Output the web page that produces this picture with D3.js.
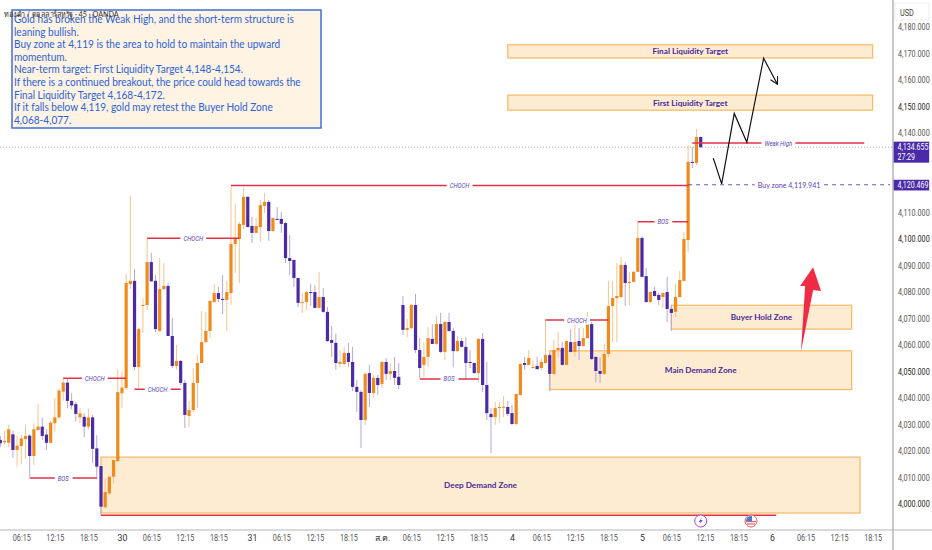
<!DOCTYPE html>
<html>

<head>
	<meta charset="utf-8">
	<title>XAUUSD 45m</title>
	<script src="https://cdn.jsdelivr.net/npm/d3@7"></script>
	<style>
		body { margin: 0; background: #fff; }
		svg { display: block; }
		text { font-family: Lato, "Noto Sans", sans-serif; }
		.tick text, .axis-text { font-family: Roboto, sans-serif; }
		.tick text { fill: #555; font-size: 8.8px; }
		.ylab text { fill: #555; }
		.mark { fill: #5a3fb8; font-family: Roboto, sans-serif; font-size: 7px; font-style: italic; }
		.zone-label { fill: #4a2a96; font-size: 8.2px; font-weight: 700; }
	</style>
</head>

<body>
	<svg id="chart" width="932" height="550"></svg>

	<script>
		// candles, one entry per 45 minute bar
		var opens = [
			4024.2,4023.3,4023.1,4026.3,4020.4,4021.9,4024.5,4025.8,4018.1,4027.9,
			4029.2,4026.2,4023.1,4030.5,4032.7,4042.4,4045.8,4038.9,4037.7,4032.7,
			4032.9,4029.2,4032.7,4021,4014.3,3998.8,4004,4010.3,4016.2,4041.8,
			4043.8,4083,4084.2,4051.7,4074.8,4075.1,4091.3,4084.2,4065.3,4081.1,
			4082.3,4063.4,4052.1,4054,4045.7,4033.2,4035.5,4045.7,4053.2,4061.1,
			4065.3,4076.2,4079.6,4077.4,4077,4079.6,4098.1,4100,4105.3,4115.9,
			4104.9,4102.3,4104.5,4112.5,4114,4103,4107.6,4107.6,4106,4092.8,
			4092.1,4085.3,4075.9,4076.2,4080,4080,4074,4078.1,4072.5,4061.9,
			4060.8,4052.9,4052.8,4057,4053.6,4044.2,4042.3,4031.7,4049.4,4041.9,
			4047.6,4045.3,4053.6,4049.1,4050.2,4048,4075.1,4065.7,4066.4,4075.1,
			4058.1,4052.5,4055.5,4062.3,4060.4,4067.9,4057.4,4068.7,4065.3,4057.7,
			4061.5,4059.3,4053.6,4053.2,4049.4,4062.3,4044.9,4034,4032.8,4036.2,
			4036.5,4036.6,4034.3,4030.2,4041.1,4053.2,4052.5,4051.3,4052.1,4051.3,
			4053.2,4056.2,4049.1,4058.1,4058.9,4052.5,4061.1,4057.4,4061.5,4059.6,
			4062.6,4067.9,4055.5,4050.2,4049.1,4056.6,4074.7,4077.7,4078.1,4090.2,
			4083.4,4083.8,4087.6,4100.4,4086,4076.2,4080.4,4078.9,4078.1,4080,
			4073.6,4072.5,4078.1,4084.2,4099.6,4129.1,4128.7,4138.5];
		var highs = [
			4025.7,4027.7,4029.8,4027.7,4025.7,4026,4029.8,4026.4,4030.5,4037.7,
			4032.7,4028.2,4031.4,4039.9,4043.7,4047.4,4047.1,4041.8,4038.6,4036.1,
			4034.2,4036.1,4033.6,4026,4014.3,4009.7,4010.3,4016.6,4050.6,4049.9,
			4086.8,4116.4,4088.7,4066.5,4077.7,4100.4,4094.7,4086.4,4092.8,4091,
			4083.4,4070.2,4060,4054.3,4046.8,4038.9,4051.3,4056.2,4072.8,4072.5,
			4077,4083,4081.9,4086.4,4084.2,4120,4113.2,4106.4,4119.3,4116.2,
			4108.3,4107.9,4114.7,4117.4,4114.7,4108,4112.1,4110.2,4106.5,4101.5,
			4092.1,4085.3,4079.6,4080.2,4083,4082.6,4087.6,4081.5,4074.3,4067.2,
			4064.2,4058.1,4059.3,4060.8,4059.3,4046.8,4043,4049.8,4052.5,4048.7,
			4048.7,4053.9,4055.1,4053.2,4055.5,4053.2,4078.5,4069.8,4075.4,4079.3,
			4062.6,4061.1,4066.8,4067.9,4071,4072.1,4068.9,4072.1,4066.4,4063.4,
			4062.6,4063,4058.1,4053.4,4062.5,4064.5,4053.6,4036.2,4038.5,4038.5,
			4040.8,4038.9,4037.4,4041.7,4053.2,4055.5,4058.1,4054.3,4055.5,4054.7,
			4069.4,4057,4061.9,4064.9,4061.1,4061.7,4066,4067.9,4066.4,4066.4,
			4072.5,4068.7,4055.7,4055.5,4060.4,4084.2,4084.2,4091,4093.2,4091.3,
			4087.6,4087.9,4106.4,4101,4089.1,4080.2,4081.9,4079.6,4080,4085.7,
			4075.1,4083,4087.9,4102.6,4135.5,4134.7,4141.5,4138.7];
		var lows = [
			4021.4,4022.3,4021.4,4017.5,4014.1,4015,4017.2,4010.1,4014.7,4027.7,
			4024.2,4020.4,4022.9,4027.3,4032,4039,4036.1,4035.7,4031.1,4030.5,
			4025.2,4028.2,4015.4,4009.3,3995.5,3998.4,4003.4,4007.8,4016,4036.1,
			4043,4081.1,4050.6,4043.8,4064.5,4073.2,4084,4064.9,4064.9,4080.8,
			4063.4,4051.3,4050.6,4044.9,4028.7,4029.1,4034.7,4036.2,4053.2,4060.8,
			4062.6,4075.9,4076.2,4071.7,4065.3,4075.1,4087.2,4083.4,4103.8,4104.5,
			4098.5,4102.3,4098.9,4109.8,4099.3,4102.8,4107.2,4102.3,4091,4086.4,
			4081.9,4074.3,4072.1,4073.2,4074.7,4073.8,4073.8,4072.1,4061.1,4055.5,
			4050.6,4051.7,4052.5,4051.7,4042.6,4034.7,4021.1,4029.8,4036.6,4040,
			4041.1,4043.8,4046.8,4046.8,4044.9,4043.4,4063.8,4063,4066,4057,
			4047.6,4047.9,4051.7,4060.4,4060,4057,4054.3,4065,4051.7,4057.4,
			4059,4046.8,4051.3,4049.2,4046,4042.3,4031.7,4019.2,4029.8,4030.6,
			4032.8,4033.2,4029.8,4029.4,4041,4050.6,4052.3,4051.1,4050.6,4050.6,
			4052.9,4042.6,4048.7,4055.5,4052.3,4052.4,4057.2,4055.5,4054.3,4059.4,
			4062.4,4054.3,4046,4045.7,4048.7,4055.5,4061.1,4061.1,4077.9,4074.7,
			4075.1,4083.6,4087.4,4085.5,4076,4075.9,4078.3,4075.1,4074,4068.7,
			4065.3,4070.6,4077.9,4084,4095.1,4126.8,4127.9,4134.3];
		var closes = [
			4022.9,4023.8,4028.2,4020.4,4022,4024.8,4025.7,4018.1,4028.2,4029.2,
			4025.7,4023.1,4030.7,4032.7,4042.8,4045.8,4038.9,4037.2,4034,4034.2,
			4029.2,4032.7,4020.8,4014.1,3999,4004.5,4010.3,4016.6,4042.2,4043.9,
			4083.4,4084.2,4051.7,4066,4075.1,4091.3,4084,4066,4081.1,4082.3,
			4063.4,4052.1,4054,4045.7,4033.6,4035.5,4045.7,4053.2,4061.1,4065.3,
			4076.6,4079.6,4077.4,4077,4080,4098.1,4100,4105.7,4115.9,4104.5,
			4102.3,4104.9,4112.8,4114,4103,4107.9,4107.2,4105.7,4092.8,4091.7,
			4085.3,4075.9,4076.2,4080,4079.6,4074,4078.1,4072.5,4061.5,4060.8,
			4053.2,4053.6,4057,4053.6,4044.2,4042.3,4031.7,4049.1,4041.9,4047.6,
			4044.9,4053.6,4049.1,4050.2,4047.6,4044.9,4065.7,4066.4,4075.1,4058.1,
			4051.3,4055.5,4062.6,4060.4,4067.9,4057.4,4068.7,4065.3,4057.7,4061.5,
			4059.3,4053.2,4053.2,4049.4,4062.3,4044.9,4034.3,4032.8,4036.2,4036.6,
			4036.7,4034,4030.2,4041.5,4052.8,4052.5,4055.1,4051.7,4050.9,4053.6,
			4056.2,4049.1,4058.1,4058.9,4052.5,4061.5,4057.4,4061.1,4059.6,4062.6,
			4067.9,4054.7,4050.2,4049.1,4056.6,4074.7,4077.7,4078.5,4090.2,4083.4,
			4083.8,4087.6,4100.4,4085.7,4076.2,4080,4078.5,4077,4079.6,4073.6,
			4072.1,4078.1,4084.5,4100,4129.1,4128.7,4138.5,4134.655];

		var timeTicks = [5,13,21,29,36,44,52,60,67,75,83,91,98,106,114,122,129,137,145,153,160,168,176,184,192,200,208];
		var timeLabels = ['06:15','12:15','18:15','30','06:15','12:15','18:15','31','06:15','12:15','18:15','ส.ค.','06:15','12:15','18:15','4','06:15','12:15','18:15','5','06:15','12:15','18:15','6','06:15','12:15','18:15'];
		// 4,120 and 4,130 sit behind the price tags
		var priceTicks = [4000,4010,4020,4030,4040,4050,4060,4070,4080,4090,4100,4110,4140,4150,4160,4170,4180];

		// zones: name, first bar, last bar, upper price, lower price
		var zoneNames = ['Final Liquidity Target', 'First Liquidity Target', 'Buyer Hold Zone', 'Main Demand Zone', 'Deep Demand Zone'];
		var zoneFrom = [121, 121, 160, 131, 24];
		var zoneTo = [208, 208, 203, 203, 205];
		var zoneTop = [4173.3, 4154.3, 4075, 4057.8, 4017.7];
		var zoneBottom = [4168.3, 4148.6, 4066, 4043.2, 3996.6];

		// structure lines
		var levelNames = ['CHOCH','CHOCH','CHOCH','CHOCH','BOS','BOS','CHOCH','BOS','Weak High'];
		var levelFrom = [55,35,15,32,7,100,130,152,165];
		var levelTo = [164,57,30,43,23,114,145,164,206];
		var levelPrice = [4120.2,4100.3,4047.5,4043.3,4009.8,4047.2,4069.4,4106.5,4136.2];

		var lastPrice = 4134.655, buyPrice = 4120.469;

		// hand drawn projection and the red arrow
		var pathBars = [170,172,175,178,182,185.3];
		var pathPrices = [4130.5,4120.8,4147.4,4136.5,4168.2,4158.4];
		var arrowBars = [190.9,191.9,190.7,193.8,195.7,193.8];
		var arrowPrices = [4057.5,4082.3,4082.3,4089.3,4080.4,4080.8];

		var noteLines = [
			'Gold has broken the Weak High, and the short-term structure is',
			'leaning bullish.',
			'Buy zone at 4,119 is the area to hold to maintain the upward',
			'momentum.',
			'Near-term target: First Liquidity Target 4,148-4,154.',
			'If there is a continued breakout, the price could head towards the',
			'Final Liquidity Target 4,168-4,172.',
			'If it falls below 4,119, gold may retest the Buyer Hold Zone',
			'4,068-4,077.'
		];

		var svg = d3.select('#chart');
		var x = d3.scaleLinear().domain([0, 167]).range([0.33, 700.7]);
		var y = d3.scaleLinear().domain([4000, 4180]).range([504, 27]);

		var upColor = '#f08a1d', upWick = '#f7c48c', downColor = '#4b2aa6', downWick = '#b3a8da', lineRed = '#e2304a';

		// the original font is narrower than anything installed, squeeze the glyphs
		function narrow(sel, k) {
			sel.each(function () {
				d3.select(this)
					.attr('textLength', this.getComputedTextLength() * k)
					.attr('lengthAdjust', 'spacingAndGlyphs');
			});
			return sel;
		}

		// zones under the candles
		zoneNames.forEach(function (name, i) {
			svg.append('rect')
				.attr('x', x(zoneFrom[i]))
				.attr('y', y(zoneTop[i]))
				.attr('width', x(zoneTo[i]) - x(zoneFrom[i]))
				.attr('height', y(zoneBottom[i]) - y(zoneTop[i]))
				.attr('fill', '#fdebd2')
				.attr('stroke', '#f6b963')
				.attr('stroke-width', 1.2);
		});

		// last price line
		svg.append('line')
			.attr('x1', 0).attr('x2', 893)
			.attr('y1', y(lastPrice)).attr('y2', y(lastPrice))
			.attr('stroke', '#999').attr('stroke-width', 0.8).attr('stroke-dasharray', '1 2');

		// candles
		var candles = svg.append('g').selectAll('g').data(opens).enter().append('g');
		candles.append('line')
			.attr('x1', function (d, i) { return x(i); })
			.attr('x2', function (d, i) { return x(i); })
			.attr('y1', function (d, i) { return y(highs[i]); })
			.attr('y2', function (d, i) { return y(lows[i]); })
			.attr('stroke', function (d, i) { return closes[i] >= d ? upWick : downWick; })
			.attr('stroke-width', 1);
		candles.append('rect')
			.attr('x', function (d, i) { return x(i) - 1.6; })
			.attr('width', 3.2)
			.attr('y', function (d, i) { return y(Math.max(d, closes[i])); })
			.attr('height', function (d, i) { return Math.max(1, Math.abs(y(d) - y(closes[i]))); })
			.attr('fill', function (d, i) { return closes[i] >= d ? upColor : downColor; });

		// structure lines with a label sitting in the middle
		function addLabel(txt, cx, cy, cls) {
			var label = svg.append('text')
				.attr('class', cls)
				.attr('x', cx).attr('y', cy + 2.5)
				.attr('text-anchor', 'middle')
				.text(txt)
				.call(narrow, 0.85);
			var box = label.node().getBBox();
			svg.insert('rect', function () { return label.node(); })
				.attr('x', box.x - 3).attr('y', box.y)
				.attr('width', box.width + 6).attr('height', box.height)
				.attr('fill', '#fff');
		}
		levelNames.forEach(function (name, i) {
			svg.append('line')
				.attr('x1', x(levelFrom[i])).attr('x2', x(levelTo[i]))
				.attr('y1', y(levelPrice[i])).attr('y2', y(levelPrice[i]))
				.attr('stroke', lineRed).attr('stroke-width', 1.5);
			addLabel(name, (x(levelFrom[i]) + x(levelTo[i])) / 2, y(levelPrice[i]), 'mark');
		});

		// red line under the deep zone
		svg.append('line')
			.attr('x1', x(24)).attr('x2', x(185))
			.attr('y1', y(3995.8)).attr('y2', y(3995.8))
			.attr('stroke', lineRed).attr('stroke-width', 1.5);

		// buy zone
		svg.append('line')
			.attr('x1', x(164)).attr('x2', 890)
			.attr('y1', y(buyPrice)).attr('y2', y(buyPrice))
			.attr('stroke', '#5a3fb8').attr('stroke-width', 0.9).attr('stroke-dasharray', '4 4');
		var buyLabel = svg.append('text')
			.attr('x', (x(164) + 890) / 2).attr('y', y(buyPrice) + 3)
			.attr('text-anchor', 'middle')
			.attr('fill', '#5a3fb8').attr('font-size', 8.2)
			.text('Buy zone 4,119.941')
			.call(narrow, 0.87);
		var buyBox = buyLabel.node().getBBox();
		svg.insert('rect', function () { return buyLabel.node(); })
			.attr('x', buyBox.x - 3).attr('y', buyBox.y)
			.attr('width', buyBox.width + 6).attr('height', buyBox.height)
			.attr('fill', '#fff');

		// zone names
		zoneNames.forEach(function (name, i) {
			svg.append('text')
				.attr('class', 'zone-label')
				.attr('x', (x(zoneFrom[i]) + x(zoneTo[i])) / 2)
				.attr('y', (y(zoneTop[i]) + y(zoneBottom[i])) / 2 + 3)
				.attr('text-anchor', 'middle')
				.text(name);
		});

		// projection path
		svg.append('defs').append('marker')
			.attr('id', 'head')
			.attr('viewBox', '0 0 10 10').attr('refX', 9).attr('refY', 5)
			.attr('markerWidth', 9).attr('markerHeight', 9)
			.attr('markerUnits', 'userSpaceOnUse')
			.attr('orient', 'auto')
			.append('path')
			.attr('d', 'M1,0.5L9,5L1,9.5')
			.attr('fill', 'none').attr('stroke', '#111').attr('stroke-width', 1.2);
		var pathLine = d3.line()
			.x(function (d) { return x(d); })
			.y(function (d, i) { return y(pathPrices[i]); });
		svg.append('path')
			.attr('d', pathLine(pathBars))
			.attr('fill', 'none')
			.attr('stroke', '#111')
			.attr('stroke-width', 1.2)
			.attr('marker-end', 'url(#head)');

		// red arrow
		svg.append('polygon')
			.attr('points', arrowBars.map(function (d, i) { return x(d) + ',' + y(arrowPrices[i]); }).join(' '))
			.attr('fill', '#ef2b45');

		// axes
		var xAxis = d3.axisBottom(x)
			.tickValues(timeTicks)
			.tickSize(0)
			.tickPadding(5)
			.tickFormat(function (d, i) { return timeLabels[i]; });
		var gx = svg.append('g').attr('transform', 'translate(0,530)').call(xAxis);
		gx.select('.domain').remove();
		gx.selectAll('text').filter(function (d, i) { return timeLabels[i].length < 5; }).style('fill', '#333');
		gx.selectAll('text').filter(function (d, i) { return timeLabels[i].length == 5; }).call(narrow, 0.82);

		var yAxis = d3.axisRight(y)
			.tickValues(priceTicks)
			.tickSize(0)
			.tickPadding(5)
			.tickFormat(d3.format(',.3f'));
		var gy = svg.append('g').attr('class', 'ylab').attr('transform', 'translate(893,0)').call(yAxis);
		gy.select('.domain').remove();
		gy.selectAll('text').filter(function (d) { return d % 50 === 0; }).style('fill', '#222');
		gy.selectAll('text').call(narrow, 0.82);

		svg.append('line').attr('x1', 0).attr('x2', 932).attr('y1', 530).attr('y2', 530).attr('stroke', '#b4b4b4').attr('stroke-width', 1);
		svg.append('line').attr('x1', 893).attr('x2', 893).attr('y1', 0).attr('y2', 550).attr('stroke', '#b4b4b4').attr('stroke-width', 1.5);

		// USD box
		svg.append('rect').attr('x', 895).attr('y', 3).attr('width', 34).attr('height', 17).attr('fill', '#fff').attr('stroke', '#eee');
		svg.append('text').attr('class', 'axis-text').attr('x', 900).attr('y', 15.5).attr('font-size', 8.6).attr('fill', '#444').text('USD').call(narrow, 0.85);

		// price tags
		svg.append('rect').attr('x', 893.7).attr('y', y(lastPrice) - 5.5).attr('width', 35.5).attr('height', 21).attr('fill', '#4a2aa8');
		svg.append('text').attr('class', 'axis-text').attr('x', 897.5).attr('y', y(lastPrice) + 3).attr('font-size', 8.8).attr('fill', '#fff').text(d3.format(',.3f')(lastPrice)).call(narrow, 0.8);
		svg.append('text').attr('class', 'axis-text').attr('x', 897.5).attr('y', y(lastPrice) + 12.5).attr('font-size', 8.8).attr('fill', '#fff').text('27:29').call(narrow, 0.8);
		svg.append('rect').attr('x', 893.7).attr('y', y(buyPrice) - 5).attr('width', 35.5).attr('height', 10.7).attr('fill', '#4a2aa8');
		svg.append('text').attr('class', 'axis-text').attr('x', 897.5).attr('y', y(buyPrice) + 3.4).attr('font-size', 8.8).attr('fill', '#fff').text(d3.format(',.3f')(buyPrice)).call(narrow, 0.8);

		// event icons
		svg.append('circle').attr('cx', x(167)).attr('cy', 521).attr('r', 6).attr('fill', '#fff').attr('stroke', '#a04fd0').attr('stroke-width', 1);
		svg.append('path')
			.attr('transform', 'translate(' + x(167) + ',521)')
			.attr('d', 'M1.5,-4L-2,1H0L-1.5,4L2,-1H0Z')
			.attr('fill', '#8a3fc8');
		svg.append('circle').attr('cx', x(179)).attr('cy', 521).attr('r', 6).attr('fill', '#fff').attr('stroke', '#e2606e').attr('stroke-width', 1);
		svg.append('path')
			.attr('transform', 'translate(' + x(179) + ',521)')
			.attr('d', 'M-5,0A5,5 0 0 1 1,-5V0Z')
			.attr('fill', '#3f7fd0');
		svg.append('rect').attr('x', x(179) - 5).attr('y', 521).attr('width', 10).attr('height', 1.2).attr('fill', '#e2606e');
		svg.append('rect').attr('x', x(179) - 4).attr('y', 523.4).attr('width', 8).attr('height', 1.2).attr('fill', '#e2606e');

		// note box
		svg.append('rect')
			.attr('x', 12).attr('y', 10)
			.attr('width', 309).attr('height', 118)
			.attr('fill', '#fff3e4')
			.attr('stroke', '#3f70d8')
			.attr('stroke-width', 1.5);
		svg.append('g').selectAll('text').data(noteLines).enter().append('text')
			.attr('x', 14)
			.attr('y', function (d, i) { return 23 + i * 12.6; })
			.attr('font-size', 10.7)
			.attr('fill', '#2b62d9')
			.text(function (d) { return d; })
			.call(narrow, 0.94);

		// title on top of the box, same as on the screen
		svg.append('text')
			.attr('x', 4).attr('y', 16.5)
			.attr('font-size', 8)
			.attr('fill', '#333')
			.text('ทองคำ / ดอลลาร์สหรัฐ · 45 · OANDA')
			.call(narrow, 0.9);
	</script>
</body>

</html>
